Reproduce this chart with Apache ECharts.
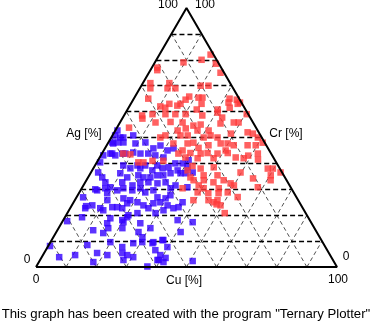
<!DOCTYPE html>
<html><head><meta charset="utf-8">
<script src="https://cdn.jsdelivr.net/npm/echarts@6/dist/echarts.min.js"></script>
<style>html,body{margin:0;padding:0;background:#fff}#c{width:372px;height:324px}</style>
</head><body><div id="c"></div>
<script>
// Ternary data as [Cu %, Ag %]; Cr % = 100 - Cu - Ag
const redPoints = [
[17,82],[15,80],[9.5,79],[20.5,78.5],[1.8,77],[2.3,76],[23.8,75],[2.5,71],[8.8,71],[3.5,69],[9.2,69],[11.8,69],[19.7,70],[22.3,70],[4.8,65],[12.8,63],[16.5,63],[17.4,64.6],[18,65.8],[21.3,65.4],[22.6,65.4],[10.3,62],[12.2,61.5],[15.8,62.3],[31.8,65],[34.4,64.6],[32.2,63.5],[35.5,63],[30,60.8],[23,60.8],
[23.5,63],[33.6,61.5],[36,63.5],[6,58.5],[9.2,59],[13.5,59],[16.8,59],[20.2,59],[26,58.5],[30.5,59.6],[33,57.7],[40.5,59],[4,53.8],[11.8,55.8],[16.7,56],[20.8,55.8],[25,54.6],[27.2,55],[33.6,55.4],[37.8,55.8],[39.4,55.8],[20.7,52.7],[23,53.5],[27.3,52.7],[31,52.7],[39,51.5],[44.3,52],[46.3,51.5],[16.3,50],[17.6,50.8],[22.6,50.8],[25,50.8],[30.7,50],[32.6,50.8],[35.3,50],[48.7,50],[51.3,48],[21.8,47.7],[26.5,47.7],[28.3,48],[31,46],[33.8,47],[37.5,47.7],[39.8,47.7],[42.2,47],[46.8,47],[49.5,47],[7.1,43.8],[26.2,45],[29.3,44],[32.8,43.8],[35,44],[38.4,43.8],[41.7,44],[51.8,43.8],[15.5,40.4],[28.5,42.3],[32.7,42],[38,42],[45.2,42.3],[48,42],[32.5,39],[35.7,38],[39.8,38.5],[49.7,36.5],[58,38],[59.7,38],[63,36.5],[60.3,35.4],[61.2,33.5],[31.7,37.3],[34,34.6],[38,35.4],[42.6,35.4],[35.6,33.5],[39,33.5],[42.6,32.7],[45.6,33.5],[48.5,32.3],[40.5,30.4],[45.5,30.4],[58.3,30.8],[33.5,30.4],[39.3,28.8],[43,28.5],[46.4,28.5],[49.3,28.8],[53.5,27],[39.4,25.8],[44.4,25.8],[47.4,25.8],[49.4,23.8],[46.5,25],[52.3,20.8],[50,31.5],[47.9,24.2],[53,41.5],[49,43],[55,34.2],[40.5,45],[38.3,31.5],[9.6,43.5],[13.8,40.4],[18.2,41],[21.8,41],[25.4,43.8],[6.7,57.3]
];
const bluePoints = [
[0.7,52.7],[0.9,50.8],[3.0,50],[1.3,48.1],[3.3,48.1],[3.4,43.8],[4.8,43.1],[1.1,40.4],[6.8,43.8],[2.4,36.5],[4.7,34.6],[6.7,32.7],[9.9,36.2],[12.3,32.7],[4.7,30],[9.3,30.8],[13.8,30.4],[4.0,50],[6.9,50.8],[5.0,48.1],[9.2,47.7],[12.3,48.1],[7.8,43.8],[10.2,44.2],[12.8,43.8],[15.4,43.8],[16.1,45.8],[17.9,46.9],[21.2,45],[22.8,45.8],[18.1,43.1],[21.2,42.3],[9.4,39.2],[12.3,38.1],[14.1,39.2],[15.6,38.1],[16.7,39.2],[20.0,37.3],[20.7,39.2],[23.0,38.1],[24.8,38.5],[26.3,40],[28.7,40],[30.1,41.2],[31.1,38.5],[28.4,37.3],[16.3,35.4],[18.4,34.6],[20.7,34.6],[22.6,35.4],[24.6,35.4],[26.6,36.2],[29.9,36.2],[31.6,36.2],[33.8,36.5],[18.3,32.7],[21.0,32.7],[24.2,32.3],[26.7,32.7],[30.6,31.5],[34.9,30.8],[13.0,34.6],[16.3,31.5],[5.5,29.6],[7.8,30.4],[9.4,28.5],[12.2,29.6],[2.2,26.9],[10.8,25.8],[5.0,22.7],[6.8,23.8],[11.4,21.9],[13.8,23.1],[15.8,26.5],[17.3,22.7],[5.7,19.2],[1.5,17.7],[11.9,14.2],[15.2,16.9],[16.5,15],[19.6,18.1],[21.2,15],[0.6,8.1],[5.8,3.8],[10.7,4.6],[12.8,8.5],[17.6,5.4],[21.4,4.6],[24.8,7.7],[26.0,5.4],[18.1,1.9],[15.8,13.1],[15.3,18.8],[19.9,9.6],[27.7,2.7],[20.7,19.2],[27.7,9.2],[27.3,13.5],[29.6,11.5],[26.2,16.9],[34.2,9.6],[36.4,6.5],[39.0,2.7],[39.0,4.6],[41.4,1.9],[39.8,7.7],[36.8,10.4],[36.9,0.2],[38.0,18.1],[41.3,13.5],[50.9,2.3],[29.3,20.8],[31.4,21.9],[34.3,22.7],[36.2,25],[26.7,24.6],[23.3,20.8],[23.8,23.8],[18.0,24.6],[15.4,23.1],[10.0,22.7],[17.2,29.6],[19.5,30.4],[21.9,28.8],[18.4,25.8],[21.2,25],[26.0,22.7],[28.8,25],[29.8,26.5],[30.8,27.7],[26.9,26.9],[31.8,23.8],[35.8,23.1],[29.5,30.4],[24.2,29.6],[20.7,20],[20.4,17.3],[30.5,15],[43.4,17.3],[30.5,9.6],[37.1,10.4],[34.1,9.2],[28.0,4.6],[30.4,3.8],[39.4,2.7],[41.3,3.5],[4.9,23.5],[1.8,47.7],[0.8,43.1],[2.8,43.8]
];
const gridLevels = [10,20,30,40,50,60,70,80,90];
const cornerLabels = ['0','100'];
const axisNames = ['Cu [%]','Ag [%]','Cr [%]'];
const footnote = 'This graph has been created with the program "Ternary Plotter"';

const H = Math.sqrt(3)/2;
function toXY(cu, ag){ return [cu + ag/2, ag*H]; }

const outline = [toXY(0,0), toXY(100,0), toXY(0,100), toXY(0,0)];
const hLines = gridLevels.map(a => ({coords:[toXY(0,a), toXY(100-a,a)]}));
const cuLines = gridLevels.map(c => ({coords:[toXY(c,0), toXY(c,100-c)]}));
const crLines = gridLevels.map(r => ({coords:[toXY(100-r,0), toXY(0,100-r)]}));

const fam = '"Liberation Sans", Arial, sans-serif';
function label(text, x, y, size){
  return {type:'text', x:x, y:y, style:{text:text, font:(size||12)+'px '+fam, fill:'#000', align:'center', verticalAlign:'middle'}, z:100};
}

const chart = echarts.init(document.getElementById('c'), null, {renderer:'canvas'});
chart.setOption({
  animation:false,
  backgroundColor:'#fff',
  grid:{left:36, right:35, top:8, bottom:57},
  xAxis:{type:'value', min:0, max:100, show:false},
  yAxis:{type:'value', min:0, max:100*H, show:false},
  series:[
    {type:'lines', coordinateSystem:'cartesian2d', data:cuLines.concat(crLines), silent:true,
     lineStyle:{color:'#222', width:0.8, type:[4,3], opacity:1}, z:1},
    {type:'lines', coordinateSystem:'cartesian2d', data:hLines, silent:true,
     lineStyle:{color:'#000', width:1.3, type:[5,3], opacity:1}, z:2},
    {type:'scatter', data:bluePoints.map(p=>toXY(p[0],p[1])), symbol:'rect', symbolSize:6.5,
     itemStyle:{color:'#3300ff'}, z:3},
    {type:'scatter', data:redPoints.map(p=>toXY(p[0],p[1])), symbol:'rect', symbolSize:6.5,
     itemStyle:{color:'#ff3a3a'}, z:4},
    {type:'line', data:outline, symbol:'none', lineStyle:{color:'#000', width:2}, z:5}
  ],
  graphic:[
    label(cornerLabels[1], 168, 5),
    label(cornerLabels[1], 205, 5),
    label(axisNames[1], 84, 134),
    label(axisNames[2], 286, 134),
    label(cornerLabels[0], 27, 260),
    label(cornerLabels[0], 346, 257),
    label(cornerLabels[0], 36, 280),
    label(cornerLabels[1], 338, 280),
    label(axisNames[0], 184, 281),
    label(footnote, 186, 314, 13.2)
  ]
});
</script></body></html>
